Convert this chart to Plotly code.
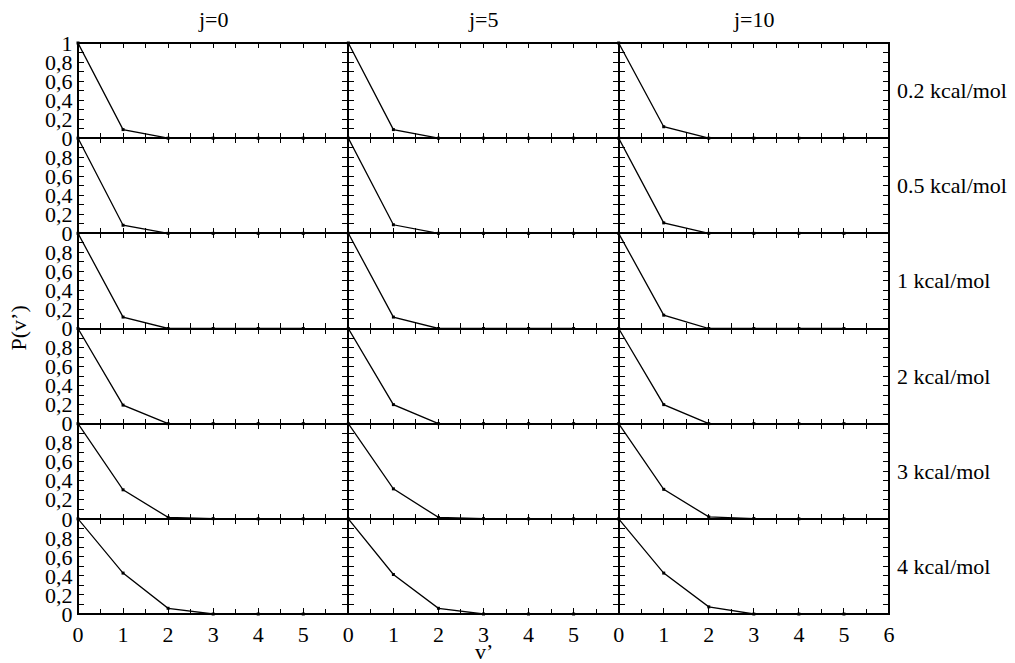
import plotly.graph_objects as go
from plotly.subplots import make_subplots

v_levels = [0, 1, 2, 3, 4, 5]
columns = ["j=0", "j=5", "j=10"]
energies = ["0.2 kcal/mol", "0.5 kcal/mol", "1 kcal/mol", "2 kcal/mol", "3 kcal/mol", "4 kcal/mol"]

# P(v') per energy (rows) and j (columns)
p_e02 = [[1.0, 0.09, 0.0, 0.0, 0.0, 0.0], [1.0, 0.09, 0.0, 0.0, 0.0, 0.0], [1.0, 0.12, 0.0, 0.0, 0.0, 0.0]]
p_e05 = [[1.0, 0.085, 0.0, 0.0, 0.0, 0.0], [1.0, 0.09, 0.0, 0.0, 0.0, 0.0], [1.0, 0.11, 0.0, 0.0, 0.0, 0.0]]
p_e1 = [[1.0, 0.12, 0.0, 0.0, 0.0, 0.0], [1.0, 0.12, 0.0, 0.0, 0.0, 0.0], [1.0, 0.14, 0.0, 0.0, 0.0, 0.0]]
p_e2 = [[1.0, 0.195, 0.0, 0.0, 0.0, 0.0], [1.0, 0.2, 0.0, 0.0, 0.0, 0.0], [1.0, 0.2, 0.0, 0.0, 0.0, 0.0]]
p_e3 = [[1.0, 0.305, 0.015, 0.002, 0.0, 0.0], [1.0, 0.315, 0.015, 0.002, 0.0, 0.0], [1.0, 0.31, 0.02, 0.003, 0.0, 0.0]]
p_e4 = [[1.0, 0.43, 0.06, 0.0, 0.0, 0.0], [1.0, 0.415, 0.06, 0.0, 0.0, 0.0], [1.0, 0.43, 0.075, 0.0, 0.0, 0.0]]
all_rows = [p_e02, p_e05, p_e1, p_e2, p_e3, p_e4]

y_major = [0, 0.2, 0.4, 0.6, 0.8]
y_major_text = ["0", "0,2", "0,4", "0,6", "0,8"]
x_major = [0, 1, 2, 3, 4, 5, 6]

FONT = "Liberation Serif, Times New Roman, Times, serif"
FS = 22

fig = make_subplots(rows=6, cols=3, horizontal_spacing=0, vertical_spacing=0,
                    shared_xaxes=False, shared_yaxes=False)

for r, rowdata in enumerate(all_rows):
    for c, vals in enumerate(rowdata):
        fig.add_trace(go.Scatter(x=v_levels, y=vals, mode="lines+markers",
                                 line=dict(color="black", width=1.3),
                                 marker=dict(symbol="square", size=3, color="black"),
                                 showlegend=False, cliponaxis=False),
                      row=r + 1, col=c + 1)
        bottom = (r == 5)
        if bottom:
            xt = x_major if c == 2 else x_major[:-1]
        else:
            xt = []
        fig.update_xaxes(range=[0, 6], showline=True, linewidth=1.2, linecolor="black",
                         mirror="ticks", ticks="inside", ticklen=6, tickwidth=1.3,
                         tickcolor="black", tickvals=x_major,
                         ticktext=[str(v) if v in xt else "" for v in x_major],
                         showticklabels=bottom,
                         minor=dict(dtick=0.5, ticks="inside", ticklen=5, tickcolor="black", tickwidth=1.2),
                         showgrid=False, zeroline=False,
                         tickfont=dict(family=FONT, size=FS, color="black"),
                         row=r + 1, col=c + 1)
        if r == 0:
            yv = y_major + [1]
            ytxt = y_major_text + ["1"]
        else:
            yv = y_major
            ytxt = y_major_text
        fig.update_yaxes(range=[0, 1], showline=True, linewidth=1.2, linecolor="black",
                         mirror="ticks", ticks="inside", ticklen=6, tickwidth=1.3,
                         tickcolor="black", tickvals=yv, ticktext=ytxt,
                         showticklabels=(c == 0),
                         minor=dict(dtick=0.1, ticks="inside", ticklen=6, tickcolor="black", tickwidth=1.2),
                         showgrid=False, zeroline=False,
                         tickfont=dict(family=FONT, size=FS, color="black"),
                         row=r + 1, col=c + 1)

annotations = []
col_centers = [1 / 6, 0.5, 5 / 6]
for name, xc in zip(columns, col_centers):
    annotations.append(dict(text=name, x=xc, y=1.0, xref="paper", yref="paper",
                            xanchor="center", yanchor="bottom", yshift=9, showarrow=False,
                            font=dict(family=FONT, size=FS, color="black")))
for i, name in enumerate(energies):
    yc = 1 - (i + 0.5) / 6
    annotations.append(dict(text=name, x=1.0, y=yc, xref="paper", yref="paper",
                            xanchor="left", yanchor="middle", xshift=6, showarrow=False,
                            font=dict(family=FONT, size=FS, color="black")))
annotations.append(dict(text="P(v’)", x=0, y=0.5, xref="paper", yref="paper",
                        xanchor="center", yanchor="middle", xshift=-60, textangle=-90,
                        showarrow=False, font=dict(family=FONT, size=FS, color="black")))
annotations.append(dict(text="v’", x=0.5, y=0, xref="paper", yref="paper",
                        xanchor="center", yanchor="bottom", yshift=-52, showarrow=False,
                        font=dict(family=FONT, size=FS, color="black")))

fig.update_layout(width=1015, height=663, margin=dict(l=78, r=126, t=43, b=49),
                  paper_bgcolor="white", plot_bgcolor="white",
                  annotations=annotations, showlegend=False,
                  shapes=[dict(type="rect", xref="paper", yref="paper", x0=0, x1=1, y0=0, y1=1,
                               line=dict(color="black", width=2), layer="above")])

fig.write_html("out.html")
